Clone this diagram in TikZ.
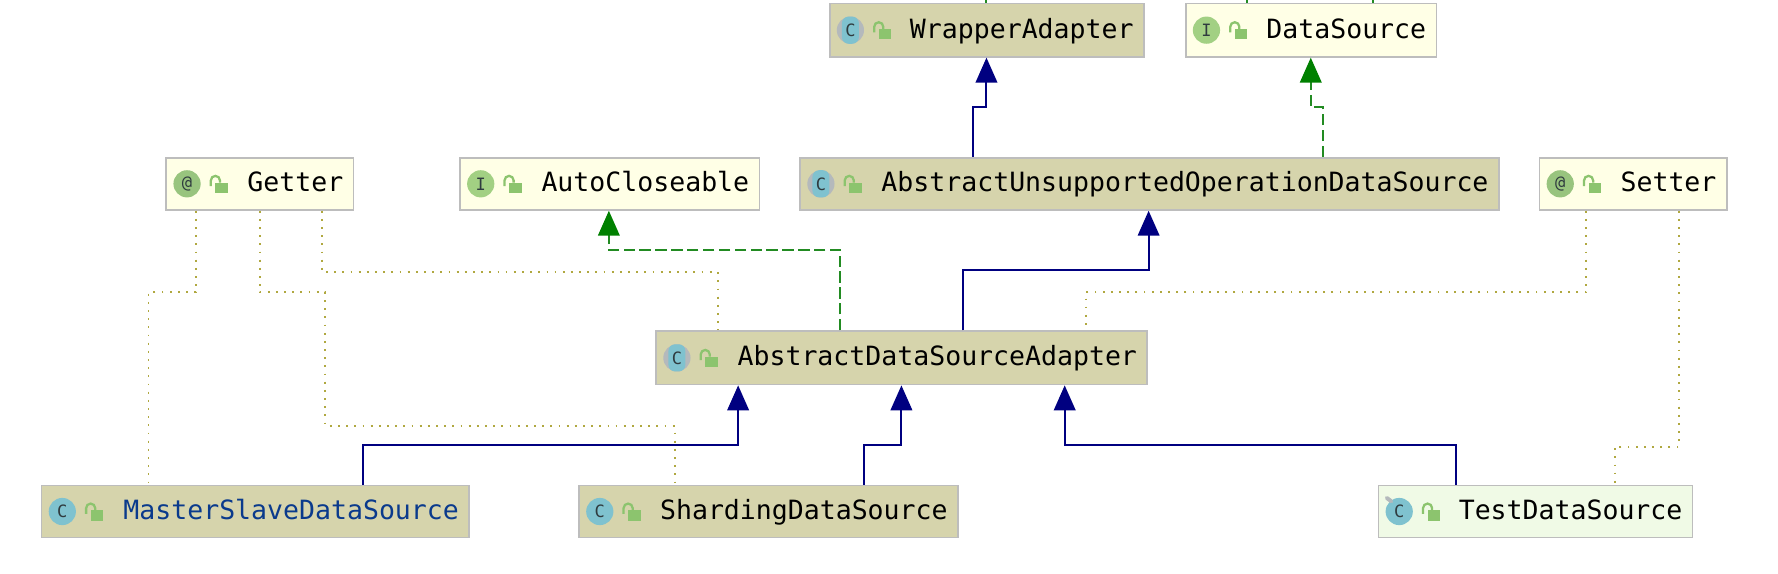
\documentclass[tikz,border=0pt]{standalone}
\usepackage{fontspec}
\setmainfont{DejaVu Sans Mono}
\usetikzlibrary{arrows.meta}
\definecolor{absfill}{HTML}{D6D4AC}
\definecolor{ifacefill}{HTML}{FFFFE6}
\definecolor{testfill}{HTML}{F0FAE6}
\definecolor{boxline}{HTML}{BDBDBD}
\definecolor{navyline}{HTML}{000080}
\definecolor{greenline}{HTML}{228B22}
\definecolor{greenhead}{HTML}{008000}
\definecolor{dotline}{HTML}{B0A840}
\definecolor{classblue}{HTML}{7FC2CF}
\definecolor{ifacegreen}{HTML}{A2D083}
\definecolor{annogreen}{HTML}{98C47E}
\definecolor{lockgreen}{HTML}{8CC46E}
\definecolor{absgray}{HTML}{B4B9BC}
\definecolor{icontext}{HTML}{2F3B3F}
\definecolor{nameblue}{HTML}{0A3A8C}
\tikzset{
  umlbox/.style={draw=boxline,line width=1.5pt,inner xsep=0pt,inner ysep=0pt,
    font=\fontsize{23.4}{26}\selectfont,align=right,text height=17.5pt,text depth=3.5pt},
  absbox/.style={umlbox,fill=absfill},
  ifacebox/.style={umlbox,fill=ifacefill},
  testbox/.style={umlbox,fill=testfill},
  inh/.style={draw=navyline,line width=1.8pt,-{Triangle[width=19pt,length=22pt,fill=navyline]}},
  impl/.style={draw=greenline,line width=1.8pt,dash pattern=on 10pt off 4pt,-{Triangle[width=19pt,length=22pt,fill=greenhead,color=greenhead,sep=0pt]}},
  implstub/.style={draw=greenline,line width=1.8pt},
  inhstub/.style={draw=greenline,line width=1.8pt},
  anno/.style={draw=dotline,line width=1.6pt,dash pattern=on 1.6pt off 5.6pt},
  icon/.style={circle,inner sep=0pt,minimum size=24pt,font=\fontsize{15}{16}\selectfont,text=icontext},
}
% name, x0, y0, x1, y1, style, text
\newcommand{\umlnode}[7]{%
  \pgfmathsetmacro{\bcx}{(#2+#4)/2}\pgfmathsetmacro{\bcy}{(#3+#5)/2}%
  \pgfmathsetmacro{\bwd}{#4-#2}\pgfmathsetmacro{\bht}{#5-#3}\pgfmathsetmacro{\btw}{#4-#2-18}%
  \node[#6,minimum width=\bwd pt,minimum height=\bht pt,text width=\btw pt] (#1) at (\bcx,\bcy) {#7};%
}
\newcommand{\lockicon}[1]{%
  \begin{scope}[shift={(#1.west)}]
    \fill[lockgreen] (44,-1) rectangle (55,8);
    \draw[lockgreen,line width=2pt] (40,2) -- (40,-3) arc[start angle=180,end angle=360,x radius=4,y radius=4] -- (48,-1);
  \end{scope}}
\newcommand{\classicon}[2]{% name,text
  \node[icon,fill=#2] (#1-icon) at ([xshift=19pt]#1.west) {C};\lockicon{#1}}
\newcommand{\absicon}[1]{%
  \node[icon,fill=absgray] (#1-icon) at ([xshift=19pt]#1.west) {};
  \fill[classblue,rounded corners=6pt] ([shift={(-7.5,-12)}]#1-icon.center) rectangle ([shift={(7.5,12)}]#1-icon.center);
  \node[icon,text=icontext] (#1-letter) at (#1-icon.center) {C};\lockicon{#1}}
\newcommand{\ifaceicon}[3]{%
  \node[icon,fill=#2] (#1-icon) at ([xshift=19pt]#1.west) {#3};\lockicon{#1}}
\begin{document}
\begin{tikzpicture}[x=1pt,y=-1pt]
\useasboundingbox (-0.7,-0.1) rectangle (1567.3,505.9);
\fill[white] (-0.7,-0.1) rectangle (1567.3,505.9);
\umlnode{wa}{731}{3}{1008}{50}{absbox}{WrapperAdapter}
\umlnode{ds}{1045}{3}{1266}{50}{ifacebox}{DataSource}
\umlnode{aus}{705}{139}{1321}{185}{absbox}{AbstractUnsupportedOperationDataSource}
\umlnode{get}{146}{139}{311}{185}{ifacebox}{Getter}
\umlnode{ac}{405}{139}{669}{185}{ifacebox}{AutoCloseable}
\umlnode{set}{1357}{139}{1522}{185}{ifacebox}{Setter}
\umlnode{ada}{578}{292}{1011}{339}{absbox}{AbstractDataSourceAdapter}
\umlnode{ms}{36}{428}{413}{474}{absbox}{\textcolor{nameblue}{MasterSlaveDataSource}}
\umlnode{sh}{510}{428}{844}{474}{absbox}{ShardingDataSource}
\umlnode{test}{1215}{428}{1492}{474}{testbox}{TestDataSource}
% icons
\absicon{wa}\absicon{aus}\absicon{ada}
\ifaceicon{ds}{ifacegreen}{I}\ifaceicon{ac}{ifacegreen}{I}
\ifaceicon{get}{annogreen}{@}\ifaceicon{set}{annogreen}{@}
\classicon{ms}{classblue}\classicon{sh}{classblue}\classicon{test}{classblue}
\draw[absgray,line width=3.5pt,line cap=round] ([shift={(-11,-12)}]test-icon.center) -- ([shift={(-7,-9)}]test-icon.center);
% inheritance
\draw[inh] ([xshift=153pt]aus.north west) -- ++(0,-44) -| ([xshift=139pt]wa.south west);
\draw[inh] ([xshift=271pt]ada.north west) -- ++(0,-53) -| ([xshift=308pt]aus.south west);
\draw[inh] ([xshift=284pt]ms.north west) -- ++(0,-35) -| ([xshift=73pt]ada.south west);
\draw[inh] ([xshift=252pt]sh.north west) -- ++(0,-35) -| ([xshift=217pt]ada.south west);
\draw[inh] ([xshift=69pt]test.north west) -- ++(0,-35) -| ([xshift=361pt]ada.south west);
% implementation
\draw[impl] ([xshift=462pt]aus.north west) -- ++(0,-44) -| ([xshift=111pt]ds.south west);
\draw[impl] ([xshift=163pt]ada.north west) -- ++(0,-71) -| ([xshift=132pt]ac.south west);
% stubs above the top row
\draw[inhstub] ([xshift=139pt]wa.north west) -- ++(0,-4);
\draw[implstub] ([xshift=55pt]ds.north west) -- ++(0,-4);
\draw[implstub] ([xshift=166pt]ds.north west) -- ++(0,-4);
% annotations
\draw[anno] ([xshift=27pt]get.south west) -- ++(0,72) -| ([xshift=95pt]ms.north west);
\draw[anno] ([xshift=83pt]get.south west) -- ++(0,72) -- ++(58,0) -- ++(0,118) -| ([xshift=85pt]sh.north west);
\draw[anno] ([xshift=138pt]get.south west) -- ++(0,54) -| ([xshift=55pt]ada.north west);
\draw[anno] ([xshift=42pt]set.south west) -- ++(0,72) -| ([xshift=380pt]ada.north west);
\draw[anno] ([xshift=124pt]set.south west) -- ++(0,208) -| ([xshift=209pt]test.north west);
\end{tikzpicture}
\end{document}
